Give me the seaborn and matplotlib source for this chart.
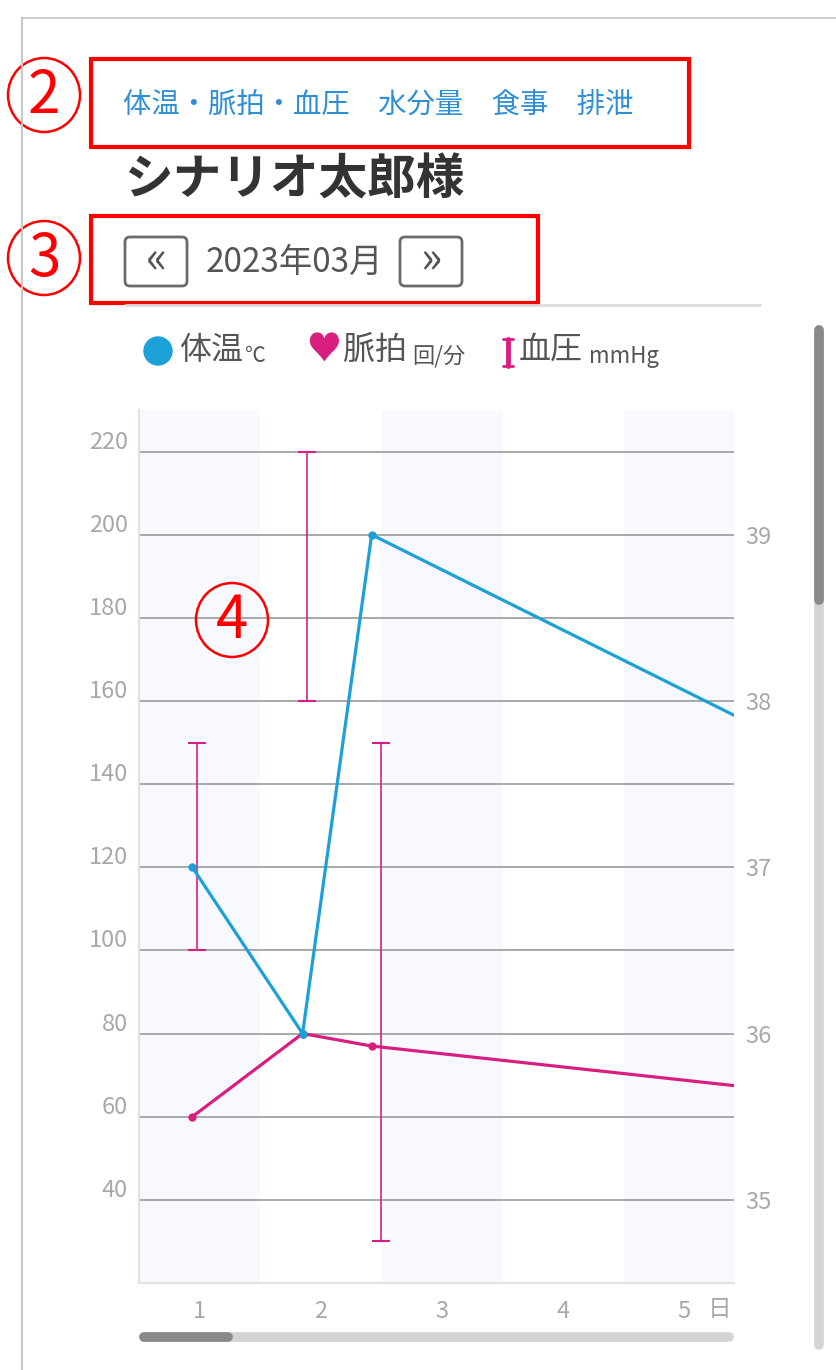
import matplotlib
matplotlib.use('Agg')
import matplotlib.pyplot as plt
import matplotlib.transforms as mtrans
import seaborn as sns
from matplotlib.patches import Ellipse, Rectangle, FancyBboxPatch

W, H = 836, 1370

# --- data ---
days = [1, 2, 3, 4, 5]
temp_days = [0.94, 1.85, 2.42, 6.0]
temp_values = [37.0, 36.0, 39.0, 37.7]
pulse_days = [0.94, 1.85, 2.42, 6.0]
pulse_values = [60, 80, 77, 65.6]
bp_days = [0.98, 1.89, 2.5]
bp_low = [100, 160, 30]
bp_high = [150, 220, 150]
left_ticks = [40, 60, 80, 100, 120, 140, 160, 180, 200, 220]
right_ticks = [35, 36, 37, 38, 39]

BLUE = '#1ba0d7'
PINK = '#d81f80'
GRID = '#a8a8a8'
TICK = '#a8a8a8'
NAV = '#2f8fd5'

sns.set_theme(style='white')
plt.rcParams['font.family'] = ['Noto Sans CJK JP', 'DejaVu Sans']

fig = plt.figure(figsize=(W / 100, H / 100), dpi=100)
ax = fig.add_axes([139 / W, 1 - 1283 / H, 595 / W, 873 / H])
ax.set_xlim(0.5, 5.41)
ax.set_ylim(20, 230)

# alternating day bands
for d in [1, 3, 5]:
    ax.axvspan(d - 0.5, d + 0.5, color='#f8f9fe', lw=0, zorder=0)
for t in left_ticks:
    ax.axhline(t, color=GRID, lw=1.4, zorder=1)

# blood pressure ranges
mid = [(lo + hi) / 2 for lo, hi in zip(bp_low, bp_high)]
half = [(hi - lo) / 2 for lo, hi in zip(bp_low, bp_high)]
ax.errorbar(bp_days, mid, yerr=half, fmt='none', ecolor=PINK, elinewidth=1.2,
            capsize=6.8, capthick=1.5, zorder=3)

# pulse
sns.lineplot(x=pulse_days, y=pulse_values, ax=ax, color=PINK, lw=2.3,
             marker='o', markersize=6, markeredgewidth=0, zorder=4)

ax.set_yticks(left_ticks)
ax.set_xticks(days)
ax.set_xticklabels([str(d) for d in days])
ax.tick_params(axis='y', length=0, pad=8, labelsize=17, labelcolor=TICK)
ax.tick_params(axis='x', length=0, pad=12, labelsize=17, labelcolor=TICK)
off = mtrans.ScaledTranslation(0, 0.12, fig.dpi_scale_trans)
for lbl in ax.get_yticklabels():
    lbl.set_transform(lbl.get_transform() + off)
for s in ['top', 'right']:
    ax.spines[s].set_visible(False)
for s in ['left', 'bottom']:
    ax.spines[s].set_color('#e2e2e2')
    ax.spines[s].set_linewidth(1.5)
ax.set_xlabel('')
ax.set_ylabel('')

# temperature on the right scale
ax2 = ax.twinx()
ax2.set_ylim(34.5, 39.75)
sns.lineplot(x=temp_days, y=temp_values, ax=ax2, color=BLUE, lw=2.3,
             marker='o', markersize=6, markeredgewidth=0, zorder=4)
ax2.set_xlim(0.5, 5.41)
ax2.set_yticks(right_ticks)
ax2.tick_params(axis='y', length=0, pad=8, labelsize=17, labelcolor=TICK)
for s in ax2.spines.values():
    s.set_visible(False)
ax2.set_ylabel('')

# --- page furniture drawn in pixel coordinates ---
ui = fig.add_axes([0, 0, 1, 1], zorder=10)
ui.set_xlim(0, W)
ui.set_ylim(H, 0)
ui.axis('off')

ui.plot([22, W], [18, 18], color='#d0d0d0', lw=1.5)
ui.plot([22, 22], [18, H], color='#c8c8c8', lw=1.5)

ui.text(123, 105, '体温・脈拍・血圧　水分量　食事　排泄', fontsize=20.4, color=NAV, va='center')
ui.text(124, 180, 'シナリオ太郎様', fontsize=35, weight='bold', color='#333333', va='center')

for x0, sym in [(125, '«'), (400, '»')]:
    ui.add_patch(FancyBboxPatch((x0, 237), 62, 49, boxstyle='round,pad=0,rounding_size=5',
                                fill=False, ec='#6b6b6b', lw=2))
    ui.text(x0 + 31, 259, sym, fontsize=32, color='#555555', ha='center', va='center')
ui.text(206, 262, '2023年03月', fontsize=24, color='#555555', va='center')
ui.plot([125, 760], [305, 305], color='#dddddd', lw=2)

# legend
ui.add_patch(Ellipse((158, 351), 28, 28, color=BLUE))
ui.text(179, 350, '体温', fontsize=23, color='#555555', va='center')
ui.text(245, 356, '℃', fontsize=15, color='#555555', va='center')
ui.text(324, 351, '♥', fontsize=25, color=PINK, ha='center', va='center')
ui.text(343, 350, '脈拍', fontsize=23, color='#555555', va='center')
ui.text(412, 356, '回/分', fontsize=16, color='#555555', va='center')
ui.plot([508, 508], [339, 366], color=PINK, lw=3.5)
ui.plot([503, 513], [339, 339], color=PINK, lw=2)
ui.plot([503, 513], [366, 366], color=PINK, lw=2)
ui.text(519, 350, '血圧', fontsize=23, color='#555555', va='center')
ui.text(589, 356, 'mmHg', fontsize=16, color='#555555', va='center')

ui.text(720, 1310, '日', fontsize=17, color=TICK, ha='center', va='center')

# scrollbars
ui.plot([819, 819], [330, 1345], color='#d4d4d4', lw=7, solid_capstyle='round')
ui.plot([819, 819], [330, 600], color='#8a8a8a', lw=7, solid_capstyle='round')
ui.plot([144, 729], [1337, 1337], color='#d4d4d4', lw=7, solid_capstyle='round')
ui.plot([144, 228], [1337, 1337], color='#8a8a8a', lw=7, solid_capstyle='round')

# red annotations
ui.add_patch(Rectangle((91, 59), 598, 88, fill=False, ec='red', lw=3))
ui.add_patch(Rectangle((91, 216), 447, 87, fill=False, ec='red', lw=3))
for (cx, cy), num in [((44, 95), '2'), ((44, 258), '3'), ((232, 620), '4')]:
    ui.add_patch(Ellipse((cx, cy), 72, 74, fill=False, ec='red', lw=1.8))
    ui.text(cx, cy + 1, num, fontsize=42, color='red', ha='center', va='center')

fig.savefig('out.png', dpi=100)
